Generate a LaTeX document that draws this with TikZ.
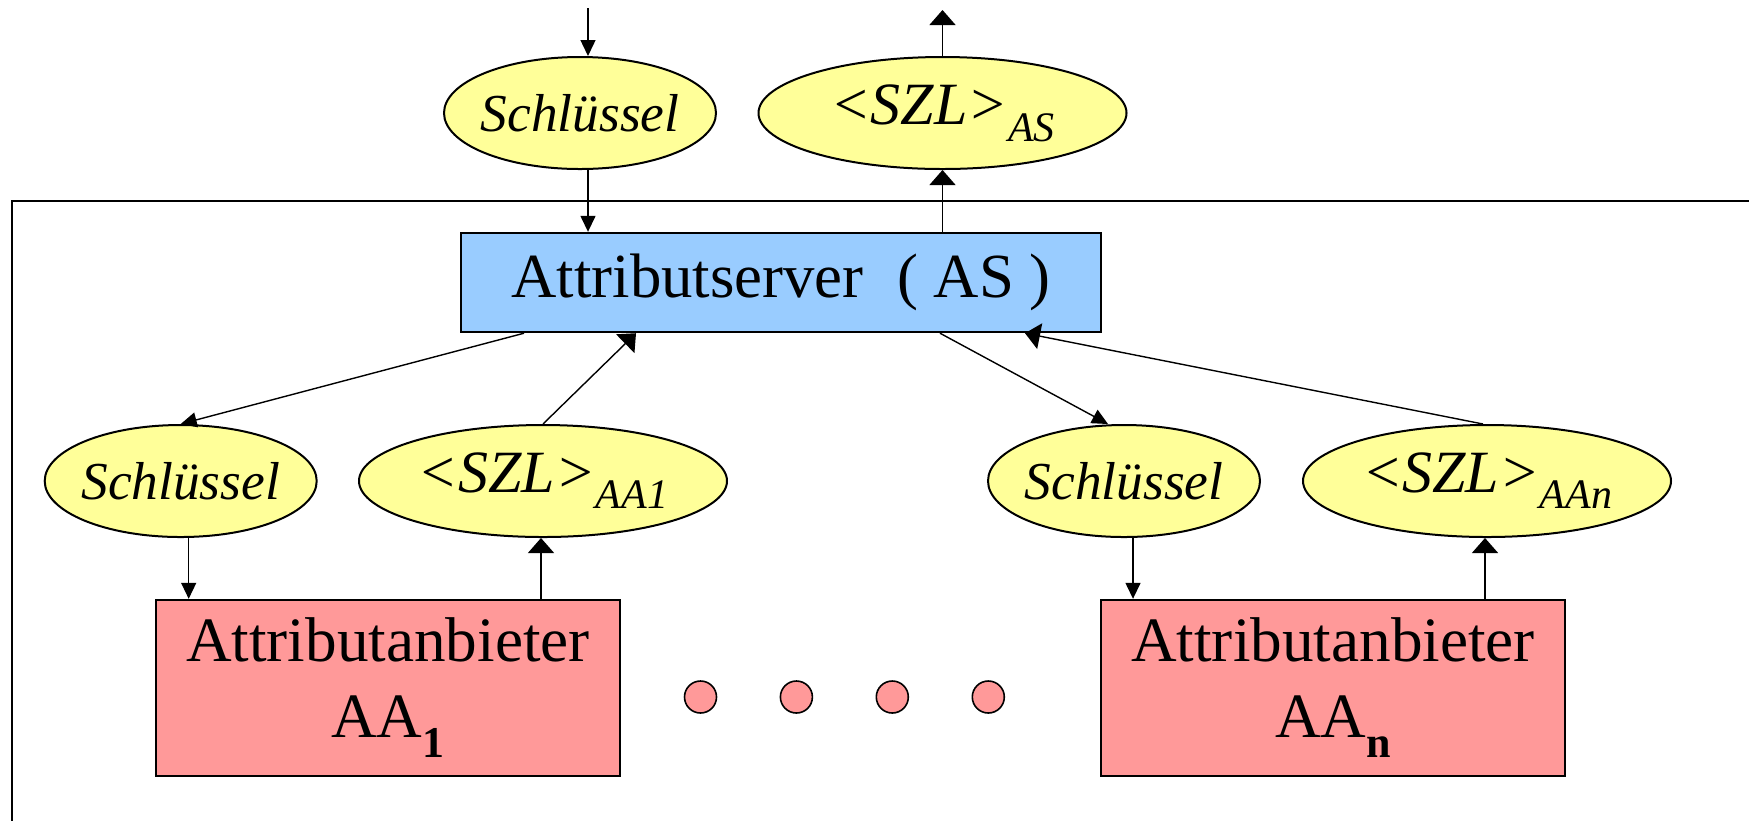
\documentclass[tikz,border=0pt]{standalone}
\usepackage{fontspec}
\setmainfont{Liberation Serif}
\usetikzlibrary{arrows.meta,shapes.geometric}
\definecolor{ovalyellow}{RGB}{255,255,153}
\definecolor{serverblue}{RGB}{153,204,255}
\definecolor{providerred}{RGB}{255,153,153}
\tikzset{
  keyoval/.style={ellipse, draw, line width=1pt, fill=ovalyellow, inner sep=0pt,
    minimum width=136pt, minimum height=56pt,
    font=\fontsize{26.7pt}{32pt}\selectfont\itshape},
  szloval/.style={keyoval, minimum width=184pt,
    font=\fontsize{30pt}{36pt}\selectfont\itshape},
  serverbox/.style={draw, line width=1.2pt, fill=serverblue, inner sep=0pt,
    minimum width=320pt, minimum height=49.5pt,
    font=\fontsize{31.4pt}{37.7pt}\selectfont},
  providerbox/.style={draw, line width=1.2pt, fill=providerred, inner sep=0pt,
    minimum width=232pt, minimum height=88pt, align=center,
    font=\fontsize{31.6pt}{38pt}\selectfont},
  dotnode/.style={circle, draw, line width=0.8pt, fill=providerred,
    minimum size=16pt, inner sep=0pt},
  arrdown/.style={-{Triangle[length=8pt,width=7.5pt]}, line width=0.7pt},
  arrup/.style={-{Triangle[length=7.5pt,width=13pt]}, line width=0.7pt},
  frameline/.style={line width=1pt},
}
\newcommand{\szl}[2]{\makebox[0pt]{<SZL>\raisebox{-#2}{\fontsize{21pt}{21pt}\selectfont #1}}}
\newcommand{\aasub}[1]{AA\raisebox{-10pt}{\fontsize{22pt}{22pt}\selectfont\bfseries #1}}
\begin{document}
\begin{tikzpicture}[x=0.5pt,y=-0.5pt]
\useasboundingbox (0,0) rectangle (1749,821);

% outer system frame (open to the right and bottom)
\draw[frameline] (1749,201) -- (12.3,201) -- (12.3,821);

% server and its external interface
\node[keyoval] (sk0) at (580,113) {\makebox[0pt]{Schlüssel}};
\node[szloval] (szl0) at (942.5,113) {\szl{AS}{8.5pt}};
\node[serverbox] (as) at (781,282.5) {Attributserver\hspace{0.28em} ( AS )};

% attribute providers
\node[keyoval] (sk1) at (180.7,481) {\makebox[0pt]{Schlüssel}};
\node[szloval] (szl1) at (543,481) {\szl{AA1}{8pt}};
\node[keyoval] (sk2) at (1124,481) {\makebox[0pt]{Schlüssel}};
\node[szloval] (szl2) at (1487,481) {\szl{AAn}{8pt}};

\node[providerbox] (aa1) at (388,688) {Attributanbieter\\\aasub{1}};
\node[providerbox] (aan) at (1333,688) {Attributanbieter\\\aasub{n}};

\node[dotnode] (d1) at (700.5,697) {};
\node[dotnode] (d2) at (796.4,697) {};
\node[dotnode] (d3) at (892.3,697) {};
\node[dotnode] (d4) at (988.3,697) {};

% free ends and attachment points
\coordinate (in0) at (588,8);
\coordinate (out0) at (942.5,10);
\coordinate (sk0b) at ([xshift=4pt]sk0.south);
\coordinate (sk0t) at ([xshift=4pt]sk0.north);
\coordinate (sk1b) at ([xshift=4pt]sk1.south);
\coordinate (sk2b) at ([xshift=4.5pt]sk2.south);
\coordinate (szl1b) at ([xshift=-1pt]szl1.south);
\coordinate (szl2b) at ([xshift=-1pt]szl2.south);

% request path in and result path out
\draw[arrdown] (in0) -- (sk0t);
\draw[arrdown] (sk0b) -- (sk0b |- as.north);
\draw[arrup] (szl0.south |- as.north) -- (szl0.south);
\draw[arrup] (szl0.north) -- (out0);

% server to providers
\draw[arrdown] ([xshift=-128.5pt]as.south) -- (sk1.north);
\draw[arrup] (szl1.north) -- ([xshift=-72.5pt]as.south);
\draw[arrdown] ([xshift=79.5pt]as.south) -- ([xshift=-8pt]sk2.north);
\draw[arrup] ([xshift=-2pt]szl2.north) -- ([xshift=122pt]as.south);

% keys into providers, results back out
\draw[arrdown] (sk1b) -- (sk1b |- aa1.north);
\draw[arrup] (szl1b |- aa1.north) -- (szl1b);
\draw[arrdown] (sk2b) -- (sk2b |- aan.north);
\draw[arrup] (szl2b |- aan.north) -- (szl2b);
\end{tikzpicture}
\end{document}
